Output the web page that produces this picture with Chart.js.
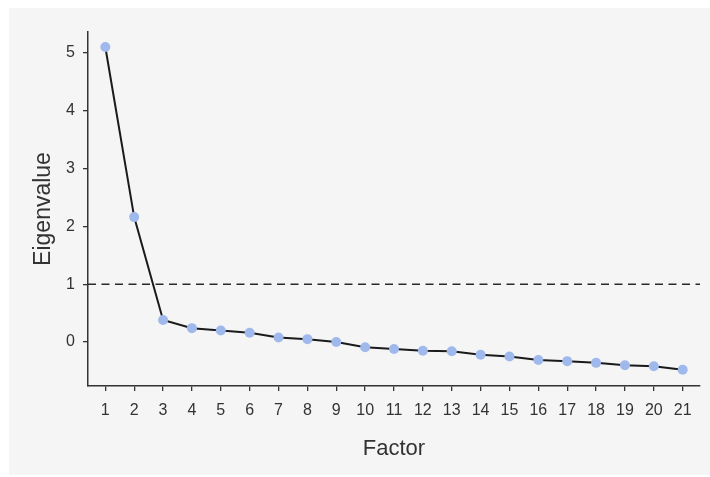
<!DOCTYPE html>
<html>
<head>
<meta charset="utf-8">
<script src="https://cdn.jsdelivr.net/npm/chart.js@4.4.1/dist/chart.umd.min.js"></script>
<style>
  html, body { margin: 0; padding: 0; background: #ffffff; }
  #wrap { position: absolute; left: 9px; top: 8px; width: 701px; height: 467px; background: #f5f5f5; }
</style>
</head>
<body>
<div id="wrap"><canvas id="c" width="701" height="467"></canvas></div>
<script>
const factors = [1,2,3,4,5,6,7,8,9,10,11,12,13,14,15,16,17,18,19,20,21];
const eigenvalues = [5.10,2.16,0.38,0.24,0.20,0.16,0.08,0.05,0.00,-0.09,-0.12,-0.15,-0.16,-0.22,-0.25,-0.31,-0.33,-0.36,-0.40,-0.42,-0.48];
const referenceLevel = 1;
const xTickValues = factors;
const yTickValues = [0,1,2,3,4,5];

const textColor = '#333333';
const fontFamily = '"Liberation Sans", Arial, Helvetica, sans-serif';

const points = factors.map((f, i) => ({ x: f, y: eigenvalues[i] }));
const refLine = [{ x: 0.4, y: referenceLevel }, { x: 21.6, y: referenceLevel }];

new Chart(document.getElementById('c'), {
  type: 'scatter',
  data: {
    datasets: [
      {
        data: refLine,
        showLine: true,
        borderColor: '#2a2a2a',
        borderWidth: 1.5,
        borderDash: [8, 5.5],
        pointRadius: 0,
        order: 2
      },
      {
        data: points,
        showLine: true,
        borderColor: '#1a1a1a',
        borderWidth: 2,
        pointRadius: 5,
        pointBackgroundColor: '#a0b9ec',
        pointBorderColor: '#a0b9ec',
        pointBorderWidth: 0,
        order: 1
      }
    ]
  },
  options: {
    responsive: false,
    animation: false,
    devicePixelRatio: 1,
    layout: { padding: { top: 24, right: 10, left: 0, bottom: 0 } },
    plugins: { legend: { display: false }, tooltip: { enabled: false } },
    scales: {
      x: {
        type: 'linear',
        min: 0.4,
        max: 21.6,
        afterBuildTicks: (s) => { s.ticks = xTickValues.map(v => ({ value: v })); },
        afterFit: (s) => { s.height = 89; },
        ticks: { color: textColor, font: { family: fontFamily, size: 16 }, padding: 10, maxRotation: 0, autoSkip: false },
        grid: { display: true, drawOnChartArea: false, drawTicks: true, tickLength: 5, color: '#333333', lineWidth: 1.3 },
        border: { display: true, color: '#333333', width: 1.5 },
        title: { display: true, text: 'Factor', color: textColor, font: { family: fontFamily, size: 22 }, padding: { top: 4, bottom: 13 } }
      },
      y: {
        type: 'linear',
        min: -0.76,
        max: 5.36,
        afterBuildTicks: (s) => { s.ticks = yTickValues.map(v => ({ value: v })); },
        afterFit: (s) => { s.width = 79; },
        ticks: { color: textColor, font: { family: fontFamily, size: 16 }, padding: 8 },
        grid: { display: true, drawOnChartArea: false, drawTicks: true, tickLength: 5, color: '#333333', lineWidth: 1.3 },
        border: { display: true, color: '#333333', width: 1.5 },
        title: { display: true, text: 'Eigenvalue', color: textColor, font: { family: fontFamily, size: 23 }, padding: { top: 21, bottom: 4 } }
      }
    }
  }
});
</script>
</body>
</html>
